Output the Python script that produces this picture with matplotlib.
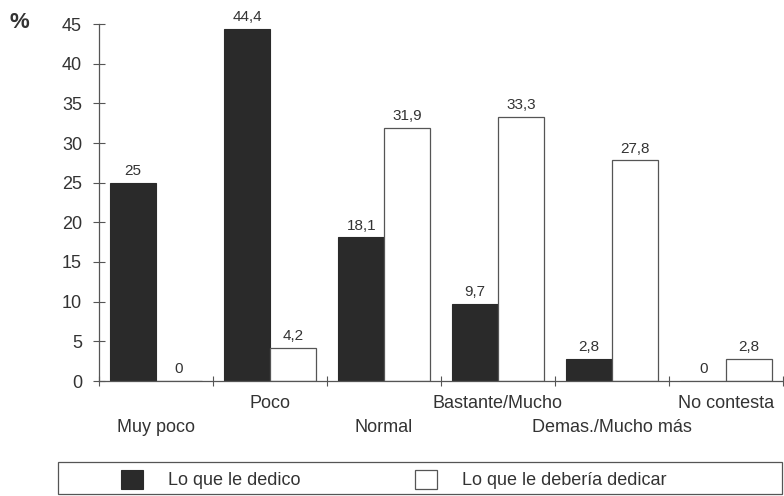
import numpy as np
import matplotlib
matplotlib.use("Agg")
from matplotlib import pyplot as plt
from matplotlib.patches import Rectangle

plt.rcParams["font.family"] = ["Liberation Sans", "DejaVu Sans"]

categories = ["Muy poco", "Poco", "Normal", "Bastante/Mucho",
              "Demas./Mucho más", "No contesta"]
dedico = [25, 44.4, 18.1, 9.7, 2.8, 0]
deberia = [0, 4.2, 31.9, 33.3, 27.8, 2.8]
series_names = ["Lo que le dedico", "Lo que le debería dedicar"]


def fmt(v):
    # decimal comma, no trailing ".0"
    return f"{v:g}".replace(".", ",")


W, H = 784, 496
fig = plt.figure(figsize=(W / 100, H / 100), dpi=100)
ax = fig.add_axes([99 / W, (H - 381) / H, 684 / W, 357 / H])

ink = "#333333"
dark = "#2a2a2a"
edge = "#555555"
x = np.arange(len(categories))
bw = 0.4

b1 = ax.bar(x + 0.1, dedico, width=bw, align="edge", color=dark,
            edgecolor=dark, linewidth=0.8, label=series_names[0])
b2 = ax.bar(x + 0.1 + bw, deberia, width=bw, align="edge", color="white",
            edgecolor=edge, linewidth=0.9, label=series_names[1])

for bars, vals in ((b1, dedico), (b2, deberia)):
    for r, v in zip(bars, vals):
        ax.annotate(fmt(v), (r.get_x() + r.get_width() / 2, v),
                    xytext=(0, 3.5), textcoords="offset points",
                    ha="center", va="bottom", fontsize=11, color=ink)

ax.set_xlim(0, len(categories))
ax.set_ylim(0, 45)
ax.set_yticks(np.arange(0, 46, 5))
ax.set_xticks(np.arange(0, len(categories) + 1))
ax.set_xticklabels([])
ax.tick_params(axis="y", direction="inout", length=8.5, width=0.8,
               color=edge, labelsize=13, labelcolor=ink, pad=8)
ax.tick_params(axis="x", direction="inout", length=6.5, width=0.8,
               color=edge)

for s in ("top", "right"):
    ax.spines[s].set_visible(False)
for s in ("left", "bottom"):
    ax.spines[s].set_color(edge)
    ax.spines[s].set_linewidth(0.9)
ax.spines["bottom"].set_zorder(3)

# staggered category names under the axis
for i, name in enumerate(categories):
    off = -19.5 if i % 2 else -36.5
    ax.annotate(name, (i + 0.5, 0), xycoords=("data", "axes fraction"),
                xytext=(0, off), textcoords="offset points",
                ha="center", va="baseline", fontsize=13, color=ink,
                annotation_clip=False)

fig.text(10 / W, (H - 22) / H, "%", fontsize=16, fontweight="bold",
         color=ink, va="center", ha="left")

# legend box along the bottom edge
fig.patches.append(Rectangle((58 / W, 2 / H), 724 / W, 32 / H,
                             transform=fig.transFigure, fill=False,
                             edgecolor=edge, linewidth=0.9))
fig.legend(handles=[b1, b2], labels=series_names, loc="center left",
           bbox_to_anchor=(121 / W, 16.5 / H), ncol=2, frameon=False,
           borderpad=0, borderaxespad=0, handlelength=1.22,
           handleheight=1.27, handletextpad=1.4, columnspacing=6.3,
           fontsize=13, labelcolor=ink)

fig.savefig("out.png", dpi=100)
